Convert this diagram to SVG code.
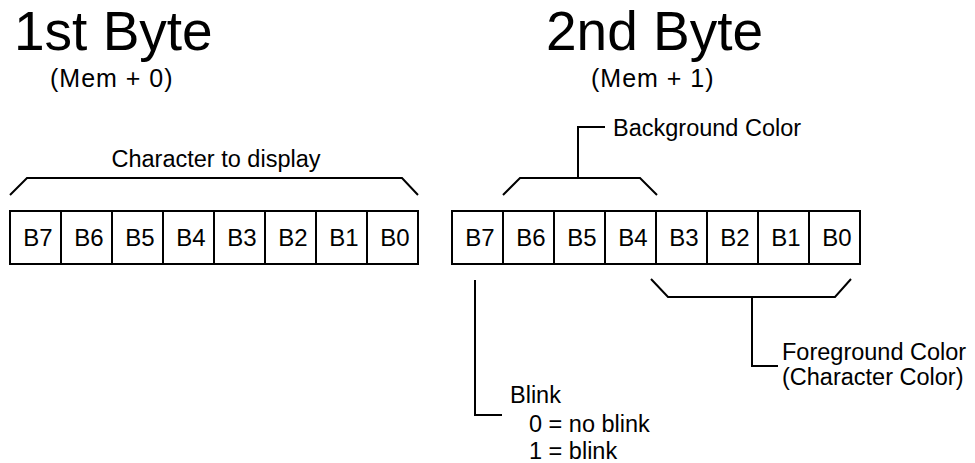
<svg xmlns="http://www.w3.org/2000/svg" width="975" height="463" viewBox="0 0 975 463">
<style>
text{font-family:"Liberation Sans",Arial,sans-serif;fill:#000}
.title{font-size:55px}
.sub{font-size:25px;letter-spacing:1px}
.lbl{font-size:23.5px}
.cell{font-size:24px;text-anchor:middle}
.box{fill:#fff;stroke:#000;stroke-width:2}
.ln{fill:none;stroke:#000;stroke-width:2}
</style>
<rect width="975" height="463" fill="#fff"/>
<g id="title1">
<text class="title" x="14" y="50">1st Byte</text>
<text class="sub" x="50" y="87">(Mem + 0)</text>
</g>
<g id="title2">
<text class="title" x="546" y="50">2nd Byte</text>
<text class="sub" x="591" y="87">(Mem + 1)</text>
</g>
<g id="byte1">
<rect class="box" x="10" y="211" width="408" height="53"/>
<path class="ln" d="M61 211V264M112 211V264M163 211V264M214 211V264M265 211V264M316 211V264M367 211V264"/>
<text class="cell" x="38" y="246">B7</text>
<text class="cell" x="89" y="246">B6</text>
<text class="cell" x="140" y="246">B5</text>
<text class="cell" x="191" y="246">B4</text>
<text class="cell" x="242" y="246">B3</text>
<text class="cell" x="293" y="246">B2</text>
<text class="cell" x="344" y="246">B1</text>
<text class="cell" x="395" y="246">B0</text>
</g>
<g id="byte2">
<rect class="box" x="452" y="211" width="408" height="53"/>
<path class="ln" d="M503 211V264M554 211V264M605 211V264M656 211V264M707 211V264M758 211V264M809 211V264"/>
<text class="cell" x="480" y="246">B7</text>
<text class="cell" x="531" y="246">B6</text>
<text class="cell" x="582" y="246">B5</text>
<text class="cell" x="633" y="246">B4</text>
<text class="cell" x="684" y="246">B3</text>
<text class="cell" x="735" y="246">B2</text>
<text class="cell" x="786" y="246">B1</text>
<text class="cell" x="837" y="246">B0</text>
</g>
<g id="label-character">
<text class="lbl" x="216" y="167" text-anchor="middle">Character to display</text>
</g>
<g id="label-background">
<text class="lbl" x="613" y="136">Background Color</text>
</g>
<g id="label-foreground">
<text class="lbl" x="782" y="360">Foreground Color</text>
<text class="lbl" x="782" y="385">(Character Color)</text>
</g>
<g id="label-blink">
<text class="lbl" x="510" y="403">Blink</text>
<text class="lbl" x="529" y="432">0 = no blink</text>
<text class="lbl" x="529" y="459">1 = blink</text>
</g>
<g id="connectors">
<path class="ln" d="M10 195L27 178H402L418 195"/>
<path class="ln" d="M503 195L520 178H640L657 195"/>
<path class="ln" d="M578 178V127H605"/>
<path class="ln" d="M651 279L668 297H835L851 279"/>
<path class="ln" d="M752 297V366H778"/>
<path class="ln" d="M475 280V415H502"/>
</g>
</svg>
